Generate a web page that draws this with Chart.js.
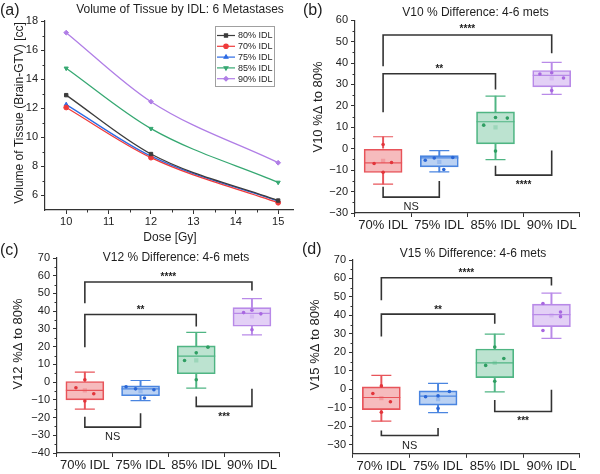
<!DOCTYPE html>
<html>
<head>
<meta charset="utf-8">
<script src="https://cdn.jsdelivr.net/npm/chart.js@4.4.1/dist/chart.umd.min.js"></script>
<style>
  body { margin: 0; background: #fff; }
  #wrap { position: relative; width: 600px; height: 474px; overflow: hidden; }
  canvas { position: absolute; }
</style>
</head>
<body>
<div id="wrap">
  <canvas id="ca" width="300" height="245" style="left:0;top:0;width:300px;height:245px"></canvas>
  <canvas id="cb" width="300" height="237" style="left:300px;top:0;width:300px;height:237px"></canvas>
  <canvas id="cc" width="300" height="237" style="left:0;top:237px;width:300px;height:237px"></canvas>
  <canvas id="cd" width="300" height="237" style="left:300px;top:237px;width:300px;height:237px"></canvas>
</div>
<script>
// ---- panel (a): volume vs dose ----
const doses = [10, 12, 15];
const doseTicks = [10, 11, 12, 13, 14, 15];
const volTicks = [6, 8, 10, 12, 14, 16, 18];
const vol80 = [12.9, 8.85, 5.65];
const vol70 = [12.05, 8.6, 5.5];
const vol75 = [12.25, 8.7, 5.6];
const vol85 = [14.75, 10.6, 6.9];
const vol90 = [17.2, 12.45, 8.25];

// ---- box panels (b)-(d) ----
const groups = ['70% IDL', '75% IDL', '85% IDL', '90% IDL'];

// V10 (b)
const v10Min = [-16.5, -10.8, -5.1, 25.4];
const v10Q1 = [-11.1, -8.5, 2.3, 28.9];
const v10Med = [-6.6, -4.3, 12.6, 34.2];
const v10Q3 = [0, -3.2, 17.2, 36.5];
const v10Max = [5.6, -0.9, 24.6, 40.3];
const v10Mean = [-5.7, -6.1, 10, 32.8];
const v10Pts = [[-6.9, 2, -6.4, -11], [-5.4, -4.3, -9.7, -4.1], [11, 14.6, 14.3, -1.1], [34.9, 35.5, 33, 27.2]];
const v10Jit = [[-0.16, 0, 0.15, 0], [-0.25, -0.09, 0.08, 0.24], [-0.21, 0, 0.21, 0], [-0.21, 0, 0.21, 0]];
const v10Br = [[0, 3, 53.1, 38.5, 44.6], [0, 2, 35, 17, 27.7], [0, 1, -22.6, -17.7, -15.1], [2, 3, -12.3, -8, -0.8]];
const v10Sig = ['****', '**', 'NS', '****'];
const v10SigY = [57, 38.5, -27.2, -15.8];
const v10Ticks = [-30, -20, -10, 0, 10, 20, 30, 40, 50, 60];

// V12 (c)
const v12Min = [-15.2, -10.5, -3.4, 26.6];
const v12Q1 = [-10, -7.7, 4.7, 31.5];
const v12Med = [-4.7, -3.8, 14.6, 38.8];
const v12Q3 = [0.35, -2.1, 20.4, 42];
const v12Max = [5.6, 0.9, 28.1, 47.1];
const v12Mean = [-4.7, -5.1, 12.2, 37];
const v12Pts = [[-3.2, 1.3, -6.6, -10.7], [-2.6, -3.8, -9, -4.3], [12.2, 16.5, 19.7, 1.3], [39.2, 40.5, 38.5, 29.5]];
const v12Jit = [[-0.16, 0, 0.16, 0], [-0.26, -0.09, 0.07, 0.24], [-0.21, 0, 0.21, 0], [-0.15, 0, 0.16, 0]];
const v12Br = [[0, 3, 56.5, 44.5, 51.6], [0, 2, 38.1, 19.7, 31.3], [0, 1, -25.4, -19.6, -17.6], [2, 3, -13.7, -8.1, -3.8]];
const v12Sig = ['****', '**', 'NS', '***'];
const v12SigY = [60.6, 42.2, -30.8, -17.9];
const v12Ticks = [-40, -30, -20, -10, 0, 10, 20, 30, 40, 50, 60, 70];

// V15 (d)
const v15Min = [-17.3, -12.7, -1.4, 27.5];
const v15Q1 = [-11.1, -8.6, 6.25, 33.9];
const v15Med = [-4.5, -3.75, 14.3, 40.4];
const v15Q3 = [1.25, -0.9, 21.8, 46.1];
const v15Max = [7.5, 3.2, 29.8, 52.1];
const v15Mean = [-4.8, -5.4, 14.3, 40];
const v15Pts = [[-2.3, 1.8, -6.8, -12.5], [-4.1, -3.6, -1.25, -10.4], [12.9, 22.9, 16.6, 4.3], [46.4, 41.8, 39.3, 31.8]];
const v15Jit = [[-0.15, 0, 0.16, 0], [-0.22, 0, 0.2, 0], [-0.16, 0, 0.16, 0], [-0.15, 0.16, 0.16, -0.15]];
const v15Br = [[0, 3, 60.4, 48.2, 56.25], [0, 2, 40.7, 28.6, 35.4], [0, 1, -25.1, -22.4, -21], [2, 3, -12.1, -5.9, -0.36]];
const v15Sig = ['****', '**', 'NS', '***'];
const v15SigY = [64.3, 44.6, -30.5, -15.7];
const v15Ticks = [-30, -20, -10, 0, 10, 20, 30, 40, 50, 60, 70];

const FONT = '"Liberation Sans", Arial, Helvetica, sans-serif';
Chart.defaults.font.family = FONT;
Chart.defaults.color = '#222';

const fmt = v => (v < 0 ? '\u2212' + Math.abs(v) : String(v));

// text drawn over each panel: panel letter, title, axis titles
function textLayer(items) {
  return {
    id: 'textLayer',
    afterDraw(chart) {
      const ctx = chart.ctx;
      items.forEach(it => {
        ctx.save();
        ctx.font = it.size + 'px ' + FONT;
        ctx.fillStyle = '#1e1e1e';
        ctx.textAlign = it.align || 'center';
        ctx.textBaseline = 'middle';
        ctx.translate(it.x, it.y);
        if (it.rot) ctx.rotate(-Math.PI / 2);
        ctx.fillText(it.t, 0, 0);
        ctx.restore();
      });
    }
  };
}

// small ticks halfway between the major ones
function minorTicks(axes) {
  return {
    id: 'minorTicks',
    afterDraw(chart) {
      const ctx = chart.ctx;
      ctx.save();
      ctx.strokeStyle = '#333';
      ctx.lineWidth = 1;
      axes.forEach(id => {
        const s = chart.scales[id];
        const vals = s.ticks.map(t => t.value);
        for (let i = 0; i < vals.length - 1; i++) {
          const p = Math.round(s.getPixelForValue((vals[i] + vals[i + 1]) / 2)) + 0.5;
          ctx.beginPath();
          if (id === 'y') { ctx.moveTo(s.right - 2.5, p); ctx.lineTo(s.right, p); }
          else { ctx.moveTo(p, s.top); ctx.lineTo(p, s.top + 2.5); }
          ctx.stroke();
        }
      });
      ctx.restore();
    }
  };
}

// legend box inside panel (a)
const legendBox = {
  id: 'legendBox',
  afterDraw(chart) {
    const ctx = chart.ctx;
    const x0 = 215, y0 = 26, w = 59, h = 60;
    ctx.save();
    ctx.strokeStyle = '#a0a0a0';
    ctx.lineWidth = 1;
    ctx.strokeRect(x0 + 0.5, y0 + 0.5, w, h);
    chart.data.datasets.forEach((ds, i) => {
      const y = y0 + 9.5 + i * 10.8;
      ctx.strokeStyle = ds.borderColor;
      ctx.fillStyle = ds.borderColor;
      ctx.lineWidth = 1.2;
      ctx.beginPath(); ctx.moveTo(x0 + 2, y); ctx.lineTo(x0 + 20, y); ctx.stroke();
      if (Chart.helpers && Chart.helpers.drawPoint) {
        Chart.helpers.drawPoint(ctx, { pointStyle: ds.pointStyle, rotation: ds.pointRotation || 0, radius: 2.2, borderWidth: 1 }, x0 + 11, y);
      }
      ctx.font = '9px ' + FONT;
      ctx.fillStyle = '#1e1e1e';
      ctx.textAlign = 'left';
      ctx.textBaseline = 'middle';
      ctx.fillText(ds.label, x0 + 23, y + 0.5);
    });
    ctx.restore();
  }
};

function axisStyle() {
  return {
    grid: { drawOnChartArea: false, drawTicks: true, tickLength: 4, color: '#333', tickWidth: 1 },
    border: { display: true, color: '#333', width: 1.2 }
  };
}

// ---------- panel (a) ----------
const lineSeries = [
  { label: '80% IDL', vals: vol80, color: '#3c3c3c', style: 'rect', rot: 0 },
  { label: '70% IDL', vals: vol70, color: '#ef3b3b', style: 'circle', rot: 0 },
  { label: '75% IDL', vals: vol75, color: '#2c6be4', style: 'triangle', rot: 0 },
  { label: '85% IDL', vals: vol85, color: '#36a872', style: 'triangle', rot: 180 },
  { label: '90% IDL', vals: vol90, color: '#b07ee6', style: 'rectRot', rot: 0 }
];

new Chart('ca', {
  type: 'line',
  data: {
    datasets: lineSeries.map(s => ({
      label: s.label,
      data: s.vals.map((v, i) => ({ x: doses[i], y: v })),
      borderColor: s.color,
      backgroundColor: s.color,
      borderWidth: 1.3,
      pointStyle: s.style,
      pointRotation: s.rot,
      pointRadius: 2.4,
      pointBorderWidth: 1,
      cubicInterpolationMode: 'monotone'
    }))
  },
  options: {
    responsive: false,
    animation: false,
    layout: { padding: { left: 0, top: 21, right: 7, bottom: 0 } },
    plugins: { legend: { display: false }, tooltip: { enabled: false } },
    scales: {
      x: Object.assign(axisStyle(), {
        type: 'linear', min: 9.5, max: 15.35,
        afterBuildTicks: s => { s.ticks = doseTicks.map(v => ({ value: v })); },
        afterFit: s => { s.height = 35; },
        ticks: { padding: 1, font: { size: 11 }, color: '#222' }
      }),
      y: Object.assign(axisStyle(), {
        type: 'linear', min: 5, max: 18,
        afterBuildTicks: s => { s.ticks = volTicks.map(v => ({ value: v })); },
        afterFit: s => { s.width = 45; },
        ticks: { padding: 3, font: { size: 11 }, color: '#222' }
      })
    }
  },
  plugins: [legendBox, minorTicks(['x', 'y']), textLayer([
    { t: '(a)', x: 0, y: 11, size: 16, align: 'left' },
    { t: 'Volume of Tissue by IDL: 6 Metastases', x: 180, y: 10, size: 12 },
    { t: 'Volume of Tissue (Brain-GTV) [cc]', x: 20, y: 113, size: 12, rot: true },
    { t: 'Dose [Gy]', x: 170, y: 238, size: 12 }
  ])]
});

// ---------- box panels ----------
const lineC = ['#e8545a', '#4a85e0', '#4fb583', '#b98ae8'];
const fillC = ['rgba(232,84,90,0.4)', 'rgba(74,133,224,0.38)', 'rgba(79,181,131,0.38)', 'rgba(185,138,232,0.4)'];
const dotC = ['#e2353b', '#2a66d6', '#2f9e62', '#a868e0'];
const meanC = ['rgba(232,84,90,0.3)', 'rgba(74,133,224,0.3)', 'rgba(79,181,131,0.3)', 'rgba(185,138,232,0.3)'];

function bracketLabels(br, labels, ys) {
  return {
    id: 'bracketLabels',
    afterDatasetsDraw(chart) {
      const { ctx, scales: { x, y } } = chart;
      ctx.save();
      ctx.fillStyle = '#1e1e1e';
      ctx.textAlign = 'center';
      ctx.textBaseline = 'middle';
      br.forEach((b, i) => {
        const star = labels[i][0] === '*';
        ctx.font = (star ? 'bold 10px ' : '11px ') + FONT;
        ctx.fillText(labels[i], x.getPixelForValue((b[0] + b[1]) / 2), y.getPixelForValue(ys[i]) + (star ? 3 : 0));
      });
      ctx.restore();
    }
  };
}

function boxPanel(id, d) {
  const at = arr => arr.map((v, i) => ({ x: i, y: v }));
  const ptData = [], ptCol = [];
  d.pts.forEach((vals, i) => vals.forEach((v, k) => {
    ptData.push({ x: i + d.jit[i][k], y: v });
    ptCol.push(dotC[i]);
  }));
  const datasets = [
    { type: 'line', data: ptData, showLine: false, pointRadius: 1.8, pointBackgroundColor: ptCol, pointBorderWidth: 0, order: 0 },
    { type: 'line', data: at(d.mean), showLine: false, pointStyle: 'rect', pointRadius: 3, pointBackgroundColor: meanC, pointBorderWidth: 0, order: 1 },
    { type: 'line', data: at(d.med), showLine: false, pointStyle: 'line', pointRadius: 19, pointBorderColor: lineC, pointBorderWidth: 1.2, order: 2 },
    { type: 'line', data: at(d.min).concat(at(d.max)), showLine: false, pointStyle: 'line', pointRadius: 10, pointBorderColor: lineC.concat(lineC), pointBorderWidth: 1.2, order: 2 },
    { type: 'bar', data: d.q1.map((v, i) => ({ x: i, y: [v, d.q3[i]] })), backgroundColor: fillC, borderColor: lineC, borderWidth: 1, borderSkipped: false, barThickness: 38, grouped: false, order: 3 },
    { type: 'bar', data: d.min.map((v, i) => ({ x: i, y: [v, d.q1[i]] })), backgroundColor: lineC, borderWidth: 0, barThickness: 1.3, grouped: false, order: 4 },
    { type: 'bar', data: d.q3.map((v, i) => ({ x: i, y: [v, d.max[i]] })), backgroundColor: lineC, borderWidth: 0, barThickness: 1.3, grouped: false, order: 4 }
  ];
  d.br.forEach(b => datasets.push({
    type: 'line',
    data: [{ x: b[0], y: b[3] }, { x: b[0], y: b[2] }, { x: b[1], y: b[2] }, { x: b[1], y: b[4] }],
    borderColor: '#333', borderWidth: 1.6, pointRadius: 0, tension: 0, borderJoinStyle: 'miter', order: 5
  }));

  new Chart(id, {
    type: 'bar',
    data: { datasets },
    options: {
      responsive: false,
      animation: false,
      layout: { padding: { left: 0, top: d.area.top, right: d.area.right, bottom: 0 } },
      plugins: { legend: { display: false }, tooltip: { enabled: false } },
      scales: {
        x: Object.assign(axisStyle(), {
          type: 'linear', min: -0.5, max: 3.5, offset: false,
          afterBuildTicks: s => { s.ticks = groups.map((g, i) => ({ value: i })); },
          afterFit: s => { s.height = d.area.xh; },
          ticks: { padding: 1, font: { size: 13 }, color: '#222', callback: v => groups[v] }
        }),
        y: Object.assign(axisStyle(), {
          type: 'linear', min: d.yMin, max: d.yMax,
          afterBuildTicks: s => { s.ticks = d.ticks.map(v => ({ value: v })); },
          afterFit: s => { s.width = d.area.left; },
          ticks: { padding: 3, font: { size: 11 }, color: '#222', callback: fmt }
        })
      }
    },
    plugins: [bracketLabels(d.br, d.sig, d.sigY), minorTicks(['y']), textLayer(d.texts)]
  });
}

boxPanel('cb', {
  min: v10Min, q1: v10Q1, med: v10Med, q3: v10Q3, max: v10Max, mean: v10Mean,
  pts: v10Pts, jit: v10Jit, br: v10Br, sig: v10Sig, sigY: v10SigY,
  ticks: v10Ticks, yMin: -30, yMax: 60,
  area: { left: 55, top: 18, right: 0, xh: 24 },
  texts: [
    { t: '(b)', x: 3, y: 11, size: 16, align: 'left' },
    { t: 'V10 % Difference: 4-6 mets', x: 175.5, y: 12.5, size: 12 },
    { t: 'V10 %\u0394 to 80%', x: 18, y: 107, size: 13, rot: true }
  ]
});

boxPanel('cc', {
  min: v12Min, q1: v12Q1, med: v12Med, q3: v12Q3, max: v12Max, mean: v12Mean,
  pts: v12Pts, jit: v12Jit, br: v12Br, sig: v12Sig, sigY: v12SigY,
  ticks: v12Ticks, yMin: -40, yMax: 70,
  area: { left: 57, top: 21, right: 0, xh: 21 },
  texts: [
    { t: '(c)', x: 0, y: 14, size: 16, align: 'left' },
    { t: 'V12 % Difference: 4-6 mets', x: 176, y: 21, size: 12 },
    { t: 'V12 %\u0394 to 80%', x: 18, y: 107, size: 13, rot: true }
  ]
});

boxPanel('cd', {
  min: v15Min, q1: v15Q1, med: v15Med, q3: v15Q3, max: v15Max, mean: v15Mean,
  pts: v15Pts, jit: v15Jit, br: v15Br, sig: v15Sig, sigY: v15SigY,
  ticks: v15Ticks, yMin: -35, yMax: 70,
  area: { left: 53, top: 23, right: 4, xh: 20 },
  texts: [
    { t: '(d)', x: 2, y: 13, size: 16, align: 'left' },
    { t: 'V15 % Difference: 4-6 mets', x: 173, y: 17, size: 12 },
    { t: 'V15 %\u0394 to 80%', x: 15, y: 108, size: 13, rot: true }
  ]
});
</script>
</body>
</html>
